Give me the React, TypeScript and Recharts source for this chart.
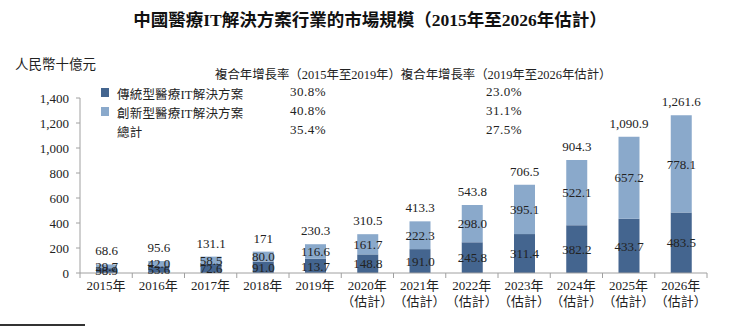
import React from "react";
import { BarChart, Bar, XAxis, YAxis, LabelList } from "recharts";

const years = ["2015年", "2016年", "2017年", "2018年", "2019年", "2020年", "2021年", "2022年", "2023年", "2024年", "2025年", "2026年"];
const estimated = [false, false, false, false, false, true, true, true, true, true, true, true];
const traditional = [38.9, 53.6, 72.6, 91.0, 113.7, 148.8, 191.0, 245.8, 311.4, 382.2, 433.7, 483.5];
const innovative = [29.7, 42.0, 58.5, 80.0, 116.6, 161.7, 222.3, 298.0, 395.1, 522.1, 657.2, 778.1];
const totals = [68.6, 95.6, 131.1, 171, 230.3, 310.5, 413.3, 543.8, 706.5, 904.3, 1090.9, 1261.6];
const yTicks = [0, 200, 400, 600, 800, 1000, 1200, 1400];

const legendRows = [
  { name: "傳統型醫療IT解決方案", color: "#44658f", cagr1: "30.8%", cagr2: "23.0%" },
  { name: "創新型醫療IT解決方案", color: "#8aa9cb", cagr1: "40.8%", cagr2: "31.1%" },
  { name: "總計", color: null as string | null, cagr1: "35.4%", cagr2: "27.5%" },
];

const data = years.map((y, i) => ({
  year: y,
  est: estimated[i],
  traditional: traditional[i],
  innovative: innovative[i],
  total: totals[i],
}));

const FONT = "'Liberation Serif', 'Noto Sans CJK TC', serif";
const DARK = "#44658f";
const LIGHT = "#8aa9cb";
const AXIS = "#a0a0a0";

const XTick = (props: any) => {
  const { x, y, payload, index } = props;
  const off = payload && payload.offset ? payload.offset : 26.1;
  const d = data[index] || data.find((e) => e.year === payload.value);
  return (
    <g>
      <line x1={x - off} x2={x - off} y1={y} y2={y + 5} stroke={AXIS} />
      {index === years.length - 1 && <line x1={x + off} x2={x + off} y1={y} y2={y + 5} stroke={AXIS} />}
      <text x={x} y={y + 17} textAnchor="middle" fontSize={13} fill="#222" fontFamily={FONT}>
        {payload.value}
      </text>
      {d && d.est && (
        <text x={x} y={y + 33} textAnchor="middle" fontSize={13} fill="#222" fontFamily={FONT}>
          （估計）
        </text>
      )}
    </g>
  );
};

const fmtTotal = (v: any) => Number(v).toLocaleString("en-US", { maximumFractionDigits: 1 });
const fmtSeg = (v: any) => Number(v).toFixed(1);

export default function App() {
  return (
    <div style={{ position: "absolute", left: 0, top: 0, width: 736, height: 330, background: "#fff", fontFamily: FONT }}>
      <div style={{ position: "absolute", left: 0, width: 736, top: 6, textAlign: "center", fontSize: 17.5, fontWeight: "bold", color: "#111", paddingLeft: 2 }}>
        中國醫療IT解決方案行業的市場規模（2015年至2026年估計）
      </div>
      <div style={{ position: "absolute", left: 15, top: 53, fontSize: 13.5, color: "#222" }}>人民幣十億元</div>
      <div style={{ position: "absolute", left: 215, top: 65, fontSize: 12.4, color: "#222", whiteSpace: "nowrap" }}>
        複合年增長率（2015年至2019年）複合年增長率（2019年至2026年估計）
      </div>
      {legendRows.map((r, i) => (
        <div key={r.name} style={{ position: "absolute", left: 0, top: 84 + i * 19, height: 18, fontSize: 12.5, color: "#222", whiteSpace: "nowrap" }}>
          {r.color && <div style={{ position: "absolute", left: 101, top: 4, width: 8, height: 9, background: r.color }} />}
          <div style={{ position: "absolute", left: 117, top: 0, letterSpacing: 0.2 }}>{r.name}</div>
          <div style={{ position: "absolute", left: 290, top: 0, fontSize: 13, letterSpacing: 0.5 }}>{r.cagr1}</div>
          <div style={{ position: "absolute", left: 486, top: 0, fontSize: 13, letterSpacing: 0.5 }}>{r.cagr2}</div>
        </div>
      ))}
      <div style={{ position: "absolute", left: 0, top: 324, width: 85, height: 1.5, background: "#333" }} />
      <div style={{ position: "absolute", left: 0, top: 0 }}>
        <BarChart width={736} height={330} data={data} margin={{ top: 98, right: 29, bottom: 17, left: 8 }} barSize={21}>
          <XAxis
            dataKey="year"
            stroke={AXIS}
            tickLine={false}
            tickSize={0}
            tickMargin={0}
            height={40}
            interval={0}
            tick={<XTick />}
          />
          <YAxis
            domain={[0, 1400]}
            ticks={yTicks}
            width={72}
            stroke={AXIS}
            tickSize={4}
            tickMargin={7}
            tickFormatter={(v: number) => v.toLocaleString("en-US")}
            tick={{ fontSize: 13, fill: "#222", fontFamily: FONT }}
            interval={0}
          />
          <Bar dataKey="traditional" stackId="a" fill={DARK} isAnimationActive={false}>
            <LabelList dataKey="traditional" position="center" formatter={fmtSeg} style={{ fontSize: 13, fill: "#222", fontFamily: FONT }} />
          </Bar>
          <Bar dataKey="innovative" stackId="a" fill={LIGHT} isAnimationActive={false}>
            <LabelList dataKey="innovative" position="center" formatter={fmtSeg} style={{ fontSize: 13, fill: "#222", fontFamily: FONT }} />
            <LabelList dataKey="total" position="top" offset={9} formatter={fmtTotal} style={{ fontSize: 13, fill: "#222", fontFamily: FONT }} />
          </Bar>
        </BarChart>
      </div>
    </div>
  );
}
